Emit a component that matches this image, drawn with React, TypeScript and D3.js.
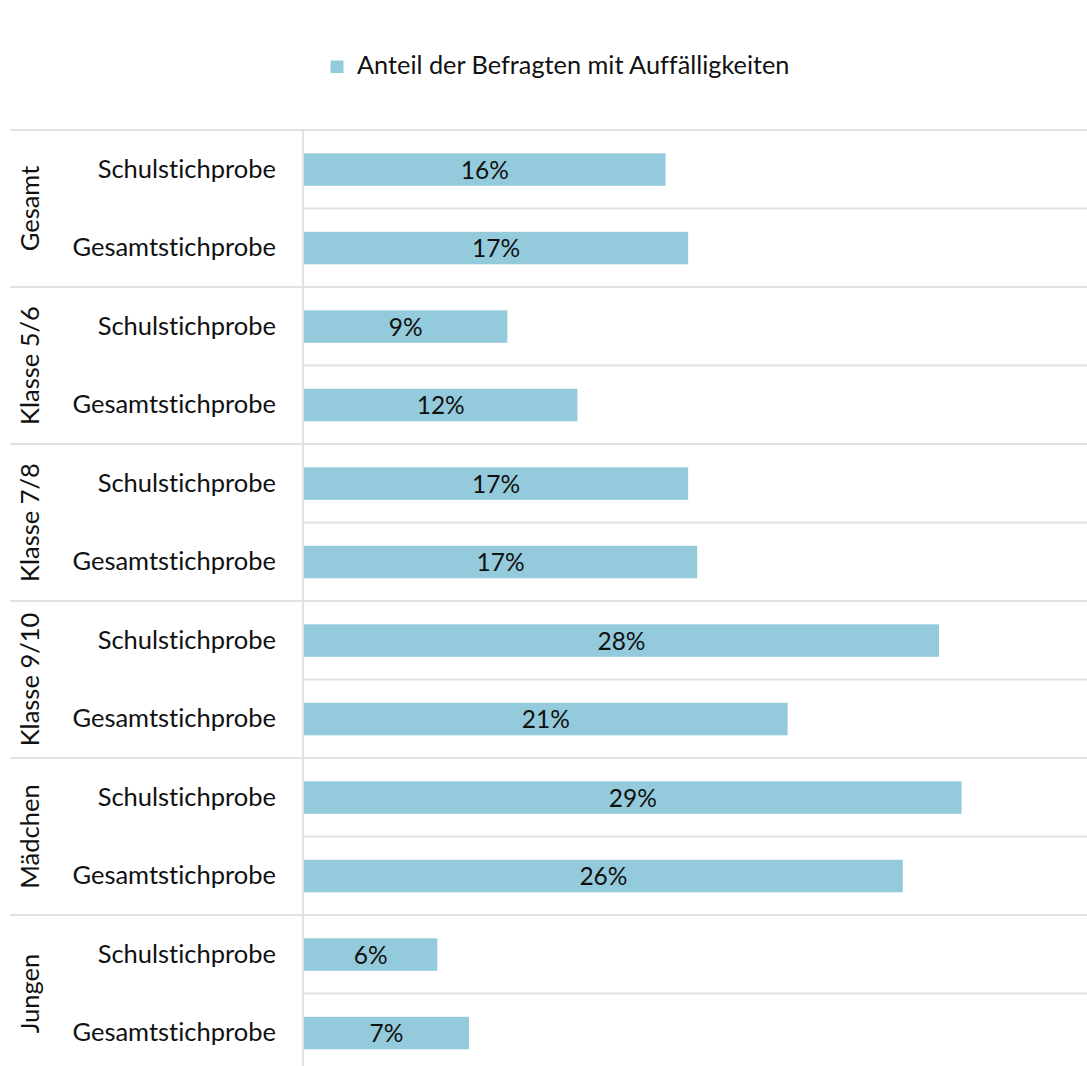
import React from "react";
import * as d3 from "d3";

const groups = ["Gesamt", "Klasse 5/6", "Klasse 7/8", "Klasse 9/10", "Mädchen", "Jungen"];
const samples = ["Schulstichprobe", "Gesamtstichprobe"];
const values = [
  [16, 17],
  [9, 12.1],
  [17, 17.4],
  [28.1, 21.4],
  [29.1, 26.5],
  [5.9, 7.3],
];
const valueLabels = [
  ["16%", "17%"],
  ["9%", "12%"],
  ["17%", "17%"],
  ["28%", "21%"],
  ["29%", "26%"],
  ["6%", "7%"],
];
const legendLabel = "Anteil der Befragten mit Auffälligkeiten";

const W = 1087;
const H = 1066;
const FONT = "Lato, 'Source Sans Pro', sans-serif";
const BAR = "#94cbdc";
const GRID = "#e2e2e2";

export default function App() {
  const top = 130;
  const rowH = 78.5;
  const x0 = 304;
  const x = d3.scaleLinear().domain([0, 34.65]).range([x0, W]);
  const rows = groups.flatMap((g, gi) => samples.map((s, si) => ({ g, gi, s, si, v: values[gi][si], lab: valueLabels[gi][si] })));
  const y = d3.scaleBand<number>().domain(d3.range(rows.length)).range([top, top + rowH * rows.length]).paddingInner(0).paddingOuter(0);
  const groupH = rowH * samples.length;
  const barH = 32.5;

  return (
    <svg
      width={W}
      height={H}
      style={{ position: "absolute", left: 0, top: 0, background: "#fff", fontVariantLigatures: "none" }}
      fontFamily={FONT}
    >
      {/* legend */}
      <rect x={330.5} y={60.5} width={13} height={12.5} fill={BAR} />
      <text x={357} y={73.5} fontSize={25.3} fill="#111">{legendLabel}</text>

      {/* row separators (inner) */}
      {rows.map((r, i) =>
        r.si === 1 ? null : (
          <line key={"rs" + i} x1={x0} x2={W} y1={(y(i) as number) + rowH} y2={(y(i) as number) + rowH} stroke={GRID} strokeWidth={2} />
        )
      )}
      {/* group separators */}
      {groups.map((g, gi) => (
        <line key={"gs" + gi} x1={10} x2={W} y1={top + gi * groupH} y2={top + gi * groupH} stroke={GRID} strokeWidth={2} />
      ))}
      {/* axis line */}
      <line x1={303} x2={303} y1={top} y2={H} stroke={GRID} strokeWidth={2} />

      {rows.map((r, i) => {
        const cy = (y(i) as number) + rowH / 2;
        return (
          <g key={"r" + i}>
            <rect x={x(0)} y={cy - barH / 2 + 0.3} width={x(r.v) - x(0)} height={barH} fill={BAR} />
            <text x={(x(0) + x(r.v)) / 2} y={cy + 9.3} textAnchor="middle" fontSize={24.5} fill="#111">{r.lab}</text>
            <text x={276} y={cy + 8.5} textAnchor="end" fontSize={25.5} fill="#111">{r.s}</text>
          </g>
        );
      })}

      {groups.map((g, gi) => {
        const cy = top + gi * groupH + groupH / 2;
        return (
          <text key={"gl" + gi} transform={`translate(39,${cy}) rotate(-90)`} textAnchor="middle" fontSize={25.5} fill="#111">{g}</text>
        );
      })}
    </svg>
  );
}
